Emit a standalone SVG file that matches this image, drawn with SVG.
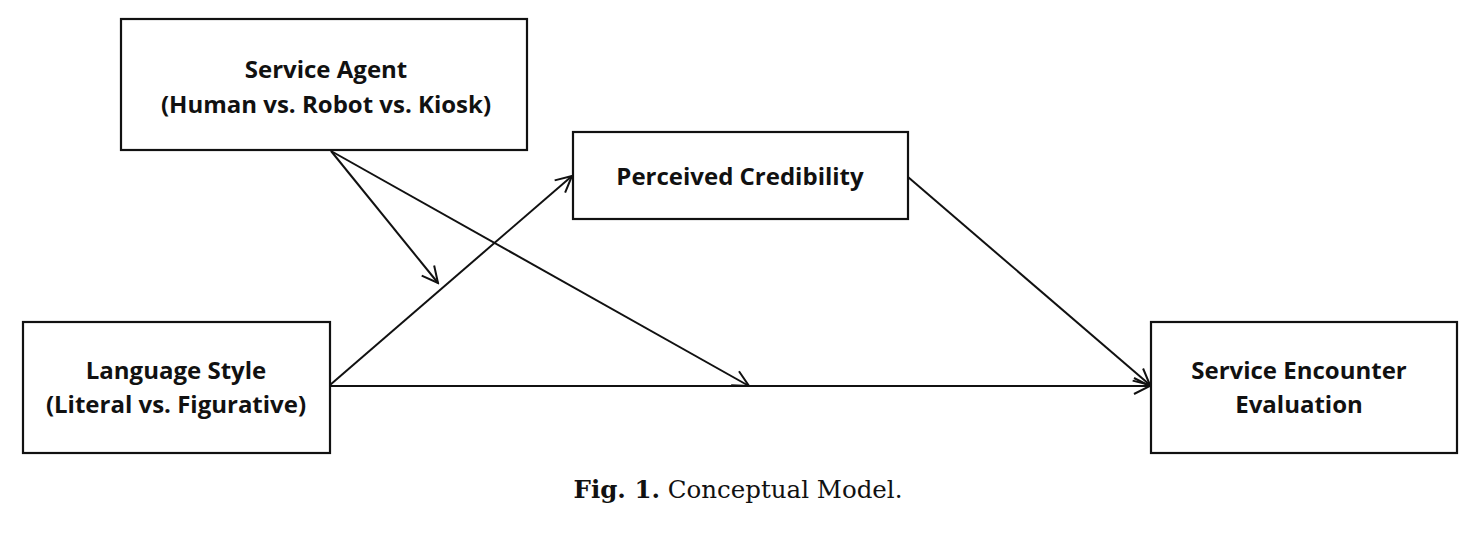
<svg xmlns="http://www.w3.org/2000/svg" width="1477" height="534" viewBox="0 0 1477 534">
<style>
.box{fill:#fff;stroke:#111;stroke-width:2.2}
.lbl{font-family:"Open Sans","Liberation Sans",sans-serif;font-weight:bold;font-size:24px;fill:#111;text-anchor:middle}
.con{stroke:#111;stroke-width:2;fill:none}
.cap{font-family:"DejaVu Serif","Liberation Serif",serif;font-size:24.5px;fill:#111;text-anchor:middle}
</style>
<defs>
<marker id="ah" viewBox="0 0 20 20" refX="18" refY="10" markerWidth="20" markerHeight="20" markerUnits="userSpaceOnUse" orient="auto">
<path d="M2,2 L18,10 L2,18" fill="none" stroke="#111" stroke-width="2"/>
</marker>
</defs>
<rect width="1477" height="534" fill="#fff"/>
<g id="connectors">
<line class="con" x1="331" y1="151" x2="438" y2="283" marker-end="url(#ah)"/>
<line class="con" x1="331" y1="151" x2="749" y2="386" marker-end="url(#ah)"/>
<line class="con" x1="330" y1="385" x2="572" y2="176" marker-end="url(#ah)"/>
<line class="con" x1="330" y1="386" x2="1150" y2="386" marker-end="url(#ah)"/>
<line class="con" x1="908" y1="177" x2="1150" y2="385" marker-end="url(#ah)"/>
</g>
<g id="service-agent">
<rect class="box" x="121" y="19" width="406" height="131"/>
<text class="lbl" x="326" y="78">Service Agent</text>
<text class="lbl" x="326" y="113">(Human vs. Robot vs. Kiosk)</text>
</g>
<g id="perceived-credibility">
<rect class="box" x="573" y="132" width="335" height="87"/>
<text class="lbl" x="740" y="185">Perceived Credibility</text>
</g>
<g id="language-style">
<rect class="box" x="23" y="322" width="307" height="131"/>
<text class="lbl" x="176" y="379">Language Style</text>
<text class="lbl" x="176" y="413">(Literal vs. Figurative)</text>
</g>
<g id="service-encounter">
<rect class="box" x="1151" y="322" width="306" height="131"/>
<text class="lbl" x="1299" y="379">Service Encounter</text>
<text class="lbl" x="1299" y="413">Evaluation</text>
</g>
<g id="caption">
<text class="cap" x="738" y="498"><tspan font-weight="bold">Fig. 1.</tspan> Conceptual Model.</text>
</g>
</svg>
